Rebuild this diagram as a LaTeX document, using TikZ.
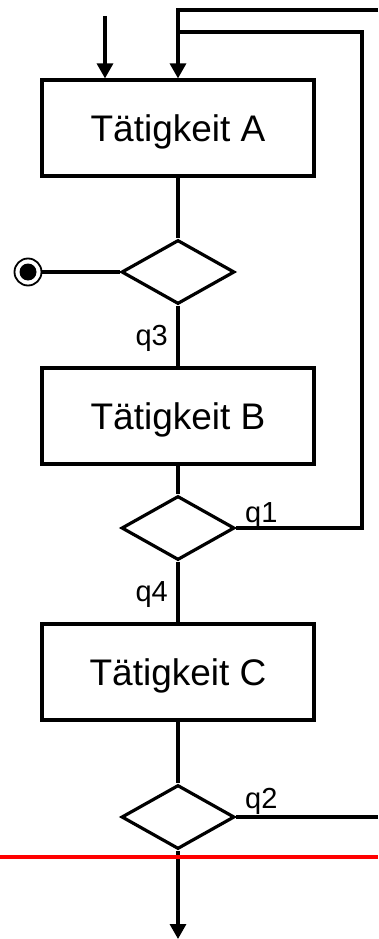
\documentclass[tikz,border=0pt]{standalone}
\usepackage{fontspec}
\setmainfont{Liberation Sans}
\usetikzlibrary{shapes.geometric,arrows.meta}

\tikzset{
  flow/.style={line width=3.2pt, line join=miter},
  activity/.style={flow, draw, rectangle, minimum width=272pt, minimum height=96pt,
    inner sep=0pt, text height=26.5pt, text depth=0pt,
    font=\fontsize{37}{40}\selectfont},
  decision/.style={flow, draw, diamond, minimum width=113pt, minimum height=64pt,
    inner sep=0pt},
  guard/.style={inner sep=0pt, font=\fontsize{29}{32}\selectfont},
  tip/.style={-{Triangle[width=16pt,length=15pt]}},
  endring/.style={draw, circle, line width=1.8pt, minimum size=27pt, inner sep=0pt},
  enddot/.style={fill, circle, minimum size=17pt, inner sep=0pt},
  cutline/.style={draw=red, line width=4.2pt}
}

\begin{document}
\begin{tikzpicture}[x=1pt, y=-1pt]
  \useasboundingbox (0,0) rectangle (378,939);

  % activities
  \node[activity] (A) at (178,128) {Tätigkeit A};
  \node[activity] (B) at (178,416) {Tätigkeit B};
  \node[activity] (C) at (178,672) {Tätigkeit C};

  % decisions
  \node[decision] (D1) at (178,272) {};
  \node[decision] (D2) at (178,528) {};
  \node[decision] (D3) at (178,817) {};

  % final node
  \node[endring] (F) at (28,272) {};
  \node[enddot] (Fd) at (F.center) {};

  % free ends of the connectors
  \coordinate (start) at (105,16);
  \coordinate (loopA) at (362,32);
  \coordinate (outTop) at (378,10);
  \coordinate (outMid) at (378,817);
  \coordinate (outEnd) at (178,939);
  \coordinate (cutL) at (0,857);
  \coordinate (cutR) at (378,857);

  % connectors
  \draw[flow, tip] (start) -- (start |- A.north);
  \draw[flow, tip] (D2.east) -| (loopA) -| (A.north);
  \draw[flow] (outTop) -| (A.north |- loopA);
  \draw[flow] (A.south) -- (D1.north);
  \draw[flow] (D1.west) -- (F.east);
  \draw[flow] (D1.south) -- (B.north);
  \draw[flow] (B.south) -- (D2.north);
  \draw[flow] (D2.south) -- (C.north);
  \draw[flow] (C.south) -- (D3.north);
  \draw[flow] (D3.east) -- (outMid);
  \draw[flow, tip] (D3.south) -- (outEnd);

  % guards
  \node[guard, anchor=base east] (g3) at (168,345) {q3};
  \node[guard, anchor=base east] (g4) at (168,601) {q4};
  \node[guard, anchor=base west] (g1) at (245,522) {q1};
  \node[guard, anchor=base west] (g2) at (245,808) {q2};

  % red cut line
  \draw[cutline] (cutL) -- (cutR);
\end{tikzpicture}
\end{document}
